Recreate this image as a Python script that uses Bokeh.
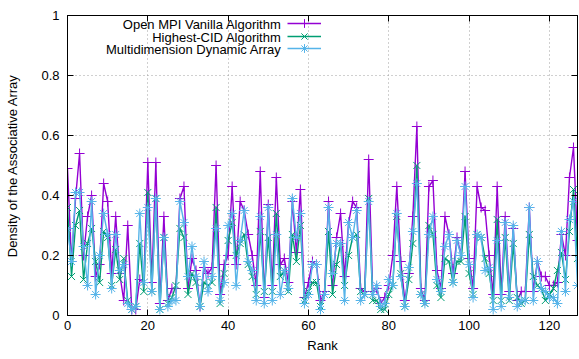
from bokeh.plotting import figure
from bokeh.models import (Range1d, LinearAxis, FixedTicker, Legend, LegendItem,
                          Label, ColumnDataSource, CustomJSTickFormatter)
from bokeh.embed import file_html
from bokeh.resources import INLINE

ranks = list(range(128))

vanilla = [
    0.49, 0.18, 0.39, 0.54, 0.20, 0.33, 0.40, 0.13, 0.17, 0.44,
    0.38, 0.14, 0.33, 0.14, 0.05, 0.30, 0.02, 0.02, 0.12, 0.11,
    0.51, 0.11, 0.51, 0.04, 0.33, 0.05, 0.09, 0.09, 0.39, 0.43,
    0.09, 0.19, 0.15, 0.03, 0.16, 0.14, 0.16, 0.50, 0.07, 0.17,
    0.20, 0.43, 0.17, 0.38, 0.35, 0.27, 0.20, 0.10, 0.48, 0.06,
    0.37, 0.10, 0.46, 0.17, 0.19, 0.11, 0.38, 0.21, 0.42, 0.06,
    0.11, 0.18, 0.17, 0.05, 0.08, 0.38, 0.10, 0.26, 0.34, 0.13,
    0.31, 0.38, 0.36, 0.09, 0.08, 0.52, 0.08, 0.09, 0.04, 0.06,
    0.10, 0.20, 0.43, 0.18, 0.05, 0.14, 0.33, 0.63, 0.09, 0.05,
    0.43, 0.45, 0.15, 0.09, 0.33, 0.27, 0.14, 0.26, 0.20, 0.48,
    0.19, 0.09, 0.43, 0.36, 0.35, 0.20, 0.07, 0.43, 0.07, 0.33,
    0.08, 0.29, 0.05, 0.08, 0.08, 0.36, 0.08, 0.18, 0.13, 0.13,
    0.10, 0.10, 0.11, 0.27, 0.20, 0.46, 0.56, 0.25,
]

highest_cid = [
    0.36, 0.13, 0.30, 0.35, 0.12, 0.24, 0.29, 0.18, 0.11, 0.28,
    0.26, 0.10, 0.22, 0.12, 0.19, 0.05, 0.02, 0.03, 0.24, 0.08,
    0.41, 0.08, 0.39, 0.02, 0.26, 0.04, 0.06, 0.10, 0.29, 0.26,
    0.07, 0.14, 0.11, 0.03, 0.11, 0.10, 0.11, 0.36, 0.04, 0.14,
    0.25, 0.31, 0.20, 0.24, 0.27, 0.17, 0.13, 0.07, 0.28, 0.08,
    0.26, 0.08, 0.34, 0.13, 0.15, 0.08, 0.27, 0.18, 0.30, 0.05,
    0.08, 0.11, 0.11, 0.03, 0.07, 0.28, 0.07, 0.17, 0.24, 0.10,
    0.20, 0.26, 0.27, 0.08, 0.07, 0.39, 0.05, 0.05, 0.02, 0.02,
    0.07, 0.10, 0.33, 0.14, 0.03, 0.12, 0.24, 0.50, 0.07, 0.04,
    0.30, 0.27, 0.10, 0.06, 0.19, 0.18, 0.11, 0.18, 0.18, 0.33,
    0.14, 0.07, 0.27, 0.26, 0.19, 0.14, 0.05, 0.32, 0.05, 0.26,
    0.05, 0.24, 0.06, 0.04, 0.05, 0.27, 0.13, 0.10, 0.09, 0.05,
    0.07, 0.09, 0.15, 0.21, 0.12, 0.28, 0.42, 0.19,
]

dynamic_array = [
    0.29, 0.18, 0.41, 0.41, 0.23, 0.10, 0.38, 0.07, 0.20, 0.34,
    0.27, 0.09, 0.27, 0.15, 0.17, 0.04, 0.02, 0.03, 0.34, 0.11,
    0.36, 0.08, 0.39, 0.02, 0.26, 0.03, 0.05, 0.05, 0.38, 0.31,
    0.13, 0.23, 0.13, 0.03, 0.18, 0.08, 0.13, 0.29, 0.05, 0.11,
    0.30, 0.34, 0.10, 0.25, 0.35, 0.18, 0.15, 0.05, 0.33, 0.04,
    0.36, 0.05, 0.27, 0.07, 0.15, 0.09, 0.39, 0.26, 0.34, 0.04,
    0.07, 0.17, 0.17, 0.02, 0.07, 0.36, 0.14, 0.24, 0.24, 0.05,
    0.31, 0.26, 0.35, 0.05, 0.07, 0.38, 0.07, 0.10, 0.03, 0.04,
    0.12, 0.10, 0.34, 0.13, 0.03, 0.16, 0.28, 0.44, 0.07, 0.04,
    0.27, 0.33, 0.12, 0.08, 0.23, 0.27, 0.11, 0.25, 0.20, 0.43,
    0.17, 0.06, 0.27, 0.26, 0.15, 0.16, 0.02, 0.25, 0.03, 0.31,
    0.06, 0.30, 0.03, 0.05, 0.05, 0.36, 0.05, 0.18, 0.09, 0.08,
    0.06, 0.06, 0.04, 0.28, 0.08, 0.32, 0.38, 0.10,
]

series_names = ["Open MPI Vanilla Algorithm", "Highest-CID Algorithm",
                "Multidimension Dynamic Array"]
series_values = [vanilla, highest_cid, dynamic_array]
series_colors = ["#9400d3", "#009e73", "#56b4e9"]
series_markers = ["cross", "x", "asterisk"]

x_ticks = [0, 20, 40, 60, 80, 100, 120]
y_ticks = [0, 0.2, 0.4, 0.6, 0.8, 1.0]
y_tick_labels = {0: "0", 0.2: "0.2", 0.4: "0.4", 0.6: "0.6", 0.8: "0.8", 1.0: "1"}

FONT = "Liberation Sans"
FS = "13px"

p = figure(frame_width=510, frame_height=300,
           min_border_left=67, min_border_right=2, min_border_top=15,
           min_border_bottom=44,
           x_range=Range1d(0, 127), y_range=Range1d(0, 1),
           output_backend="svg", toolbar_location=None,
           x_axis_label="Rank", y_axis_label="Density of the Associative Array")

p.background_fill_color = "white"
p.border_fill_color = "white"
p.outline_line_color = "black"
p.outline_line_width = 1

for ax in (p.xaxis[0], p.yaxis[0]):
    ax.axis_line_color = "black"
    ax.major_tick_line_color = "black"
    ax.major_tick_in = 6
    ax.major_tick_out = 0
    ax.minor_tick_line_color = None
    ax.major_label_text_font = FONT
    ax.major_label_text_font_size = FS
    ax.major_label_text_color = "black"
    ax.axis_label_text_font = FONT
    ax.axis_label_text_font_size = FS
    ax.axis_label_text_font_style = "normal"
    ax.axis_label_text_color = "black"

p.xaxis[0].ticker = FixedTicker(ticks=x_ticks)
p.yaxis[0].ticker = FixedTicker(ticks=y_ticks)
p.yaxis[0].major_label_overrides = y_tick_labels
p.xaxis[0].major_label_standoff = 5
p.yaxis[0].major_label_standoff = 8
p.xaxis[0].axis_label_standoff = 5
p.yaxis[0].axis_label_standoff = 18

# mirrored ticks (gnuplot style)
blank = CustomJSTickFormatter(code="return ''")
top = LinearAxis(ticker=FixedTicker(ticks=x_ticks), major_tick_in=6, major_tick_out=0,
                 minor_tick_line_color=None, formatter=blank,
                 major_label_standoff=0, axis_line_color="black")
right = LinearAxis(ticker=FixedTicker(ticks=y_ticks), major_tick_in=6, major_tick_out=0,
                   minor_tick_line_color=None, formatter=blank,
                   major_label_standoff=0, axis_line_color="black")
p.add_layout(top, "above")
p.add_layout(right, "right")

for g in (p.xgrid[0], p.ygrid[0]):
    g.grid_line_color = "#a0a0a0"
    g.grid_line_dash = "1 3"
    g.grid_line_width = 1
p.xgrid[0].ticker = FixedTicker(ticks=x_ticks)
p.ygrid[0].ticker = FixedTicker(ticks=y_ticks)

for i, (name, vals, col, mk) in enumerate(zip(series_names, series_values,
                                               series_colors, series_markers)):
    src = ColumnDataSource(dict(rank=ranks, val=vals))
    ln = p.line("rank", "val", source=src, line_color=col, line_width=1.4)
    sc = p.scatter("rank", "val", source=src, marker=mk, size=10,
                   line_color=col, line_width=1, fill_color=None)
    # gnuplot-style key: right-aligned text, sample to its right
    lg = Legend(items=[LegendItem(label="", renderers=[ln, sc])],
                location=(220, 281 - i * 12.7), orientation="vertical",
                glyph_width=34, glyph_height=22, label_height=22, label_width=0,
                label_text_font_size=FS, padding=0, margin=0, spacing=0,
                label_standoff=0, border_line_color=None,
                background_fill_alpha=0)
    p.add_layout(lg)
    p.add_layout(Label(x=214, y=291 - i * 12.7, x_units="screen", y_units="screen",
                       text=name, text_align="right", text_baseline="middle",
                       text_font=FONT, text_font_size=FS, text_color="black"))

open("out.html", "w").write(file_html(p, INLINE))
